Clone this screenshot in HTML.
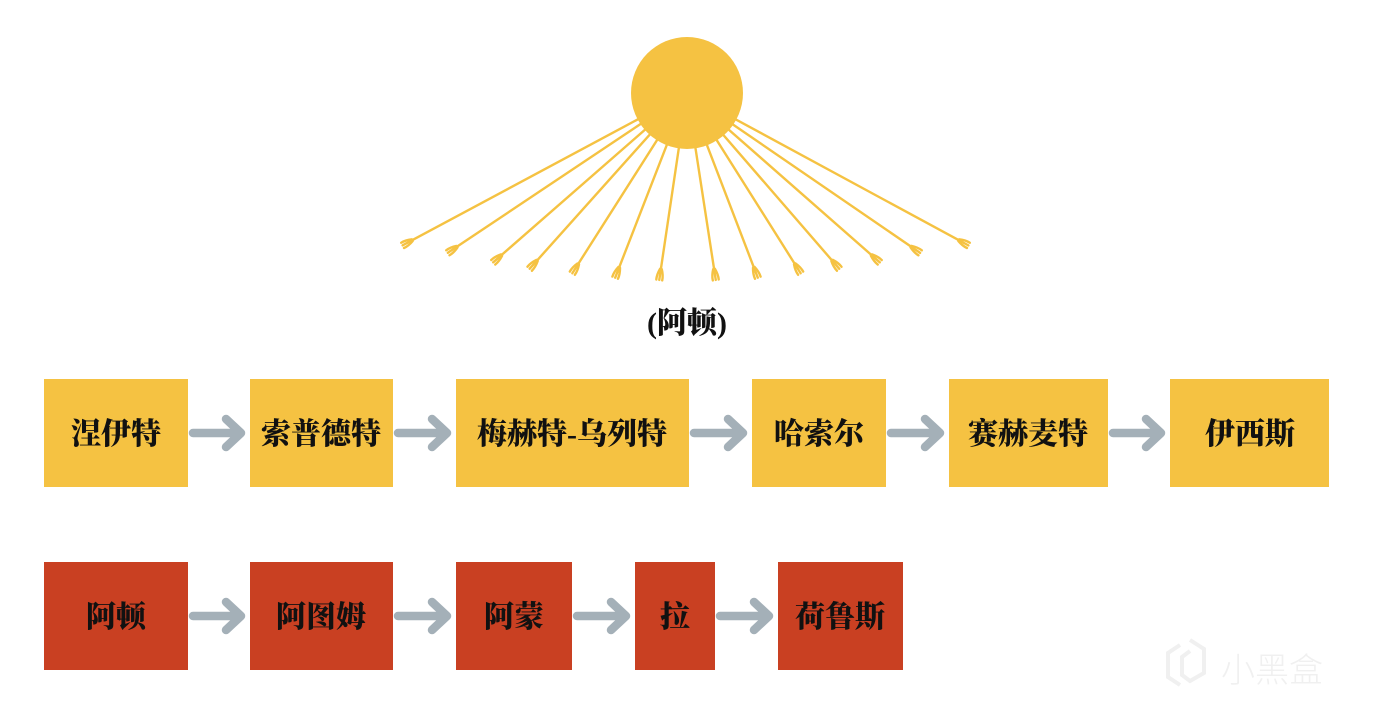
<!DOCTYPE html>
<html><head><meta charset="utf-8">
<style>
html,body{margin:0;padding:0;background:#fff;}
svg{display:block;}
text{font-family:"Liberation Serif","Noto Serif CJK SC",serif;font-weight:900;}
</style></head>
<body>
<svg id="s" width="1376" height="715" viewBox="0 0 1376 715" xmlns="http://www.w3.org/2000/svg">
<g id="rays" stroke="#F5C242" stroke-width="2.4" stroke-linecap="round" fill="none"></g>
<circle cx="687" cy="93" r="56" fill="#F5C242"/>
<text x="687" y="333" font-size="30" text-anchor="middle" fill="#111">(阿顿)</text>

<g fill="#F5C242">
<rect x="44" y="379" width="144" height="108"/>
<rect x="250" y="379" width="143" height="108"/>
<rect x="456" y="379" width="233" height="108"/>
<rect x="752" y="379" width="134" height="108"/>
<rect x="949" y="379" width="159" height="108"/>
<rect x="1170" y="379" width="159" height="108"/>
</g>
<g fill="#C94022">
<rect x="44" y="562" width="144" height="108"/>
<rect x="250" y="562" width="143" height="108"/>
<rect x="456" y="562" width="116" height="108"/>
<rect x="635" y="562" width="80" height="108"/>
<rect x="778" y="562" width="125" height="108"/>
</g>
<g font-size="30" text-anchor="middle" fill="#111">
<text x="116" y="444">涅伊特</text>
<text x="321" y="444">索普德特</text>
<text x="572" y="444">梅赫特-乌列特</text>
<text x="819" y="444">哈索尔</text>
<text x="1028" y="444">赛赫麦特</text>
<text x="1250" y="444">伊西斯</text>
<text x="116" y="627">阿顿</text>
<text x="321" y="627">阿图姆</text>
<text x="514" y="627">阿蒙</text>
<text x="675" y="627">拉</text>
<text x="840" y="627">荷鲁斯</text>
</g>
<g id="arrows" stroke="#A4B0B8" stroke-width="8.5" stroke-linecap="round" stroke-linejoin="round" fill="none"></g>
<g fill="none" stroke="#f0f0f0" stroke-width="4">
<path d="M1180 645 l-12 8 v24 l12 8 M1190 640 l14 9 v24 l-14 8 l-8-6 v-18 l8-6"/>
</g>
<text x="1272" y="682" font-size="34" text-anchor="middle" fill="#f0f0f0" style="font-family:'Noto Sans CJK SC',sans-serif;font-weight:300">小黑盒</text>
</svg>
<script>
var NS="http://www.w3.org/2000/svg";
var ends=[[407,243],[452,250],[497,259],[533,265],[575,269],[617,273],[660,275],[715,275],[756,273],[798,269],[836,265],[876,259],[916,250],[964,243]];
var g=document.getElementById('rays');
var cx=687,cy=93;
ends.forEach(function(e){
  var dx=e[0]-cx,dy=e[1]-cy,L=Math.hypot(dx,dy),ux=dx/L,uy=dy/L;
  var l=document.createElementNS(NS,'line');
  l.setAttribute('x1',cx);l.setAttribute('y1',cy);
  l.setAttribute('x2',e[0]-ux*4);l.setAttribute('y2',e[1]-uy*4);
  g.appendChild(l);
  var px=-uy,py=ux;
  var bx=e[0]-ux*6,by=e[1]-uy*6;
  [-3,0,3].forEach(function(o,i){
    var p=document.createElementNS(NS,'path');
    var sx=bx+px*o*0.3,sy=by+py*o*0.3;
    var tx=e[0]+ux*5+px*o,ty=e[1]+uy*5+py*o;
    var qx=e[0]+px*o*1.1,qy=e[1]+py*o*1.1;
    p.setAttribute('d','M'+sx+' '+sy+' Q'+qx+' '+qy+' '+tx+' '+ty);
    p.setAttribute('stroke-width',2.4);
    g.appendChild(p);
  });
});
var arrs=[[193,245,433],[398,451,433],[694,747,433],[891,944,433],[1113,1165,433],
[193,245,616],[398,451,616],[577,630,616],[720,773,616]];
var a=document.getElementById('arrows');
arrs.forEach(function(r){
  var p=document.createElementNS(NS,'path');
  var x1=r[0],x2=r[1]-4,y=r[2];
  p.setAttribute('d','M'+x1+' '+y+' H'+x2+' M'+(x2-15)+' '+(y-14)+' L'+x2+' '+y+' L'+(x2-15)+' '+(y+14));
  a.appendChild(p);
});
</script>
</body></html>
